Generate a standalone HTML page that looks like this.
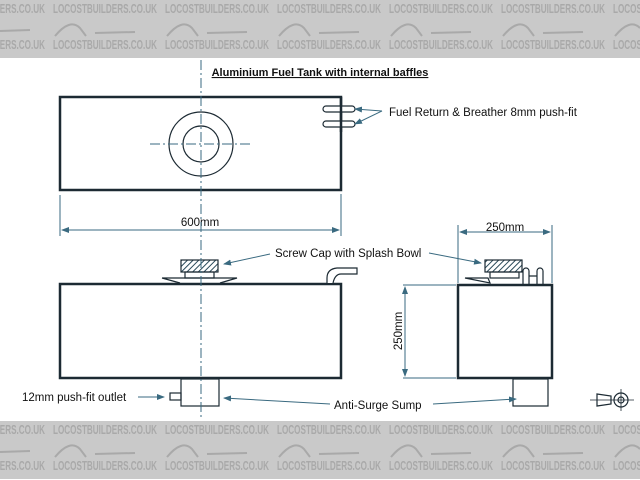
<!DOCTYPE html>
<html><head><meta charset="utf-8"><style>
html,body{margin:0;padding:0;width:640px;height:480px;overflow:hidden;background:#fff}
svg{display:block}
.wm{font-family:"Liberation Sans",sans-serif;font-weight:bold;font-size:13px;fill:#a9a9a9}
</style></head><body>
<svg width="640" height="480" viewBox="0 0 640 480" xmlns="http://www.w3.org/2000/svg">
<defs>
<pattern id="h" width="4" height="4" patternUnits="userSpaceOnUse" patternTransform="rotate(45)">
<rect width="4" height="4" fill="#fff"/><line x1="0" y1="0" x2="0" y2="4" stroke="#2a4a5a" stroke-width="2"/></pattern>
<marker id="a" markerWidth="8" markerHeight="6" refX="7" refY="3" orient="auto" markerUnits="userSpaceOnUse"><path d="M0,0 L8,3 L0,6z" fill="#3a6a80"/></marker>
<g id="band">
<rect x="0" y="0" width="640" height="58" fill="#c9c9c9"/>
<g class="wm">
<text x="-59" y="13" textLength="104" lengthAdjust="spacingAndGlyphs">LOCOSTBUILDERS.CO.UK</text><text x="53" y="13" textLength="104" lengthAdjust="spacingAndGlyphs">LOCOSTBUILDERS.CO.UK</text><text x="165" y="13" textLength="104" lengthAdjust="spacingAndGlyphs">LOCOSTBUILDERS.CO.UK</text><text x="277" y="13" textLength="104" lengthAdjust="spacingAndGlyphs">LOCOSTBUILDERS.CO.UK</text><text x="389" y="13" textLength="104" lengthAdjust="spacingAndGlyphs">LOCOSTBUILDERS.CO.UK</text><text x="501" y="13" textLength="104" lengthAdjust="spacingAndGlyphs">LOCOSTBUILDERS.CO.UK</text><text x="613" y="13" textLength="104" lengthAdjust="spacingAndGlyphs">LOCOSTBUILDERS.CO.UK</text>
<text x="-59" y="49" textLength="104" lengthAdjust="spacingAndGlyphs">LOCOSTBUILDERS.CO.UK</text><text x="53" y="49" textLength="104" lengthAdjust="spacingAndGlyphs">LOCOSTBUILDERS.CO.UK</text><text x="165" y="49" textLength="104" lengthAdjust="spacingAndGlyphs">LOCOSTBUILDERS.CO.UK</text><text x="277" y="49" textLength="104" lengthAdjust="spacingAndGlyphs">LOCOSTBUILDERS.CO.UK</text><text x="389" y="49" textLength="104" lengthAdjust="spacingAndGlyphs">LOCOSTBUILDERS.CO.UK</text><text x="501" y="49" textLength="104" lengthAdjust="spacingAndGlyphs">LOCOSTBUILDERS.CO.UK</text><text x="613" y="49" textLength="104" lengthAdjust="spacingAndGlyphs">LOCOSTBUILDERS.CO.UK</text>
</g>
<g fill="none" stroke="#a9a9a9" stroke-width="2">
<path d="M55,36 q15,-18 25,-8 l6,8 M95,33 l40,-1 M0,31 l30,-1 M167,36 q15,-18 25,-8 l6,8 M207,33 l40,-1 M279,36 q15,-18 25,-8 l6,8 M319,33 l40,-1 M391,36 q15,-18 25,-8 l6,8 M431,33 l40,-1 M503,36 q15,-18 25,-8 l6,8 M543,33 l40,-1 M615,36 q15,-18 25,-8"/>
</g>
</g>
</defs>
<use href="#band"/>
<use href="#band" transform="translate(0,421)"/>

<g font-family="Liberation Sans, sans-serif" fill="#111">
<text x="320" y="76" text-anchor="middle" font-size="11" font-weight="bold" text-decoration="underline">Aluminium Fuel Tank with internal baffles</text>
<text x="389" y="116" font-size="11.5">Fuel Return &amp; Breather 8mm push-fit</text>
<text x="200" y="226" text-anchor="middle" font-size="11.5">600mm</text>
<text x="275" y="257" font-size="11.5">Screw Cap with Splash Bowl</text>
<text x="505" y="231" text-anchor="middle" font-size="11.5">250mm</text>
<text transform="translate(402,331) rotate(-90)" text-anchor="middle" font-size="11.5">250mm</text>
<text x="22" y="401" font-size="11.5">12mm push-fit outlet</text>
<text x="334" y="409" font-size="11.5">Anti-Surge Sump</text>
</g>

<g fill="none" stroke="#1c2a33">
<rect x="60" y="97" width="281" height="93" stroke-width="2.5"/>
<circle cx="201" cy="144" r="32" stroke-width="1.2"/>
<circle cx="201" cy="144" r="18" stroke-width="1.2"/>
<path d="M333,106 h19 a3,3 0 0 1 0,6 h-26 a3,3 0 0 1 0,-6z M333,121 h19 a3,3 0 0 1 0,6 h-26 a3,3 0 0 1 0,-6z" fill="#fff" stroke-width="1.2"/>
<line x1="341" y1="97" x2="341" y2="132" stroke-width="2.5"/>
<rect x="60" y="284" width="281" height="94" stroke-width="2.5"/>
<rect x="181" y="260" width="37" height="12" fill="url(#h)" stroke-width="1.2"/>
<rect x="185" y="272" width="29" height="6" stroke-width="1.2"/>
<path d="M162,278 H237 L220,283 M162,278 L180,283" stroke-width="1.2"/>
<path d="M327,283 V278 q0,-9 10,-10 h20 v6 h-16 q-6,0 -8,9" stroke-width="1.2" fill="#fff"/>
<rect x="181" y="379" width="38" height="27" stroke-width="1.2"/>
<rect x="170" y="393" width="11" height="7" stroke-width="1.2"/>
<rect x="458" y="285" width="94" height="93" stroke-width="2.5"/>
<rect x="485" y="260" width="37" height="12" fill="url(#h)" stroke-width="1.2"/>
<rect x="490" y="272" width="29" height="6" stroke-width="1.2"/>
<path d="M465,278 H488 L490,283 Z" stroke-width="1.2"/>
<path d="M523,284 V271 a3,3 0 0 1 6,0 V284 M537,284 V271 a3,3 0 0 1 6,0 V284 M529,276 h8" stroke-width="1.2"/>
<rect x="513" y="379" width="35" height="27" stroke-width="1.2"/>
<path d="M597,394 L611,396 V404 L597,406 Z" stroke-width="1.2"/>
<circle cx="621" cy="400" r="7" stroke-width="1.2"/>
<circle cx="621" cy="400" r="3" stroke-width="1.2"/>
<path d="M590,400 H634 M621,389 V411" stroke-width="0.8"/>
</g>

<g fill="none" stroke="#3a6a80" stroke-width="1">
<path d="M201,60 V420 M150,144 H250" stroke-dasharray="10,3,2,3"/>
<path d="M60,195 V236 M341,194 V236 M458,225 V283 M552,225 V283 M403,285 H456 M403,378 H456"/>
<line x1="62" y1="230" x2="339" y2="230" marker-end="url(#a)"/><line x1="339" y1="230" x2="62" y2="230" marker-end="url(#a)"/>
<line x1="460" y1="232" x2="550" y2="232" marker-end="url(#a)"/><line x1="550" y1="232" x2="460" y2="232" marker-end="url(#a)"/>
<line x1="405" y1="287" x2="405" y2="376" marker-end="url(#a)"/><line x1="405" y1="376" x2="405" y2="287" marker-end="url(#a)"/>
<line x1="382" y1="111" x2="355" y2="109" marker-end="url(#a)"/>
<line x1="382" y1="111" x2="355" y2="124" marker-end="url(#a)"/>
<line x1="270" y1="254" x2="224" y2="264" marker-end="url(#a)"/>
<line x1="429" y1="253" x2="481" y2="263" marker-end="url(#a)"/>
<line x1="138" y1="397" x2="164" y2="397" marker-end="url(#a)"/>
<line x1="330" y1="404" x2="224" y2="398" marker-end="url(#a)"/>
<line x1="433" y1="404" x2="516" y2="399" marker-end="url(#a)"/>
</g>
</svg>
</body></html>
